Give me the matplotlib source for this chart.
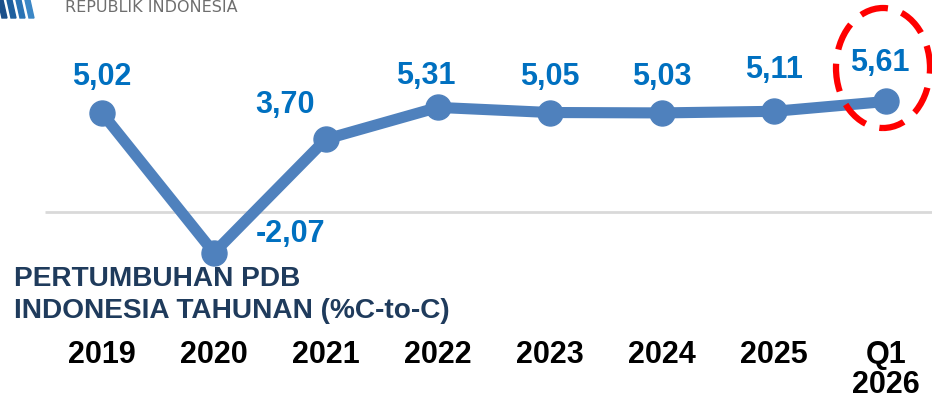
import matplotlib
matplotlib.use("Agg")
import matplotlib.pyplot as plt
from matplotlib.patches import Ellipse, Polygon

categories = ["2019", "2020", "2021", "2022", "2023", "2024", "2025", "Q1\n2026"]
growth = [5.02, -2.07, 3.70, 5.31, 5.05, 5.03, 5.11, 5.61]
value_labels = ["5,02", "-2,07", "3,70", "5,31", "5,05", "5,03", "5,11", "5,61"]
label_offsets_px = [(0, 36), (77, 19), (-41, 34), (-12, 31), (0, 36), (0, 36), (0, 41), (-6, 38)]

plt.rcParams['font.family'] = ['Liberation Sans', 'DejaVu Sans']

W, H, DPI = 932, 403, 100
fig = plt.figure(figsize=(W / DPI, H / DPI), dpi=DPI)
fig.patch.set_facecolor("white")

bottom_px = 338
ax = fig.add_axes([0, (H - bottom_px) / H, 1, bottom_px / H])
x0_px, step_px, zero_px, unit_px = 102, 112, 212, 19.7
ax.set_xlim(-x0_px / step_px, (W - x0_px) / step_px)
ax.set_ylim((zero_px - bottom_px) / unit_px, zero_px / unit_px)
ax.axis("off")

xs = list(range(len(categories)))
# zero gridline
ax.hlines(0, (45 - x0_px) / step_px, (W - x0_px) / step_px, color="#D9D9D9", lw=2, zorder=1)
ax.plot(xs, growth, color="#4F81BD", lw=8, marker="o", markersize=18,
        solid_capstyle="round", solid_joinstyle="round", zorder=3)

for x, v, lab, (dx, dy) in zip(xs, growth, value_labels, label_offsets_px):
    ax.annotate(lab, (x, v), xytext=(dx * 72 / DPI, dy * 72 / DPI), textcoords="offset points",
                ha="center", va="center", fontsize=22, fontweight="bold", color="#0070C0", zorder=4)

# category labels
for x, c in zip(xs, categories):
    ax.text(x, (zero_px - 340) / unit_px, c, ha="center", va="top", fontsize=22,
            fontweight="bold", color="black", linespacing=1.0, clip_on=False)

# red dashed highlight ellipse
ell = Ellipse((xs[-1] - 3 / step_px, (zero_px - 68) / unit_px), 94 / step_px, 120 / unit_px,
              fill=False, edgecolor="#FF0000", lw=4.5, linestyle=(1, (4.5, 2.3)), zorder=5, clip_on=False)
ax.add_patch(ell)

# chart title
fig.text(14 / W, 1 - 266 / H, "PERTUMBUHAN PDB\nINDONESIA TAHUNAN (%C-to-C)", ha="left", va="top",
         fontsize=20.2, fontweight="bold", color="#1F3B5C", linespacing=1.28)

# header logo fragment and text
fig.text(65 / W, 1 - 8 / H, "REPUBLIK INDONESIA", ha="left", va="center", fontsize=11.5,
         color="#6E6E6E", family=["DejaVu Sans"])
for i, col in enumerate(["#1B4F8A", "#1E5F9E", "#2A73B4", "#3B87C6"]):
    x = i * 9 - 2
    poly = Polygon([(x / W, 1 - 0 / H), ((x + 5) / W, 1 - 0 / H), ((x + 9) / W, 1 - 18 / H), ((x + 4) / W, 1 - 18 / H)],
                   closed=True, transform=fig.transFigure, color=col)
    fig.patches.append(poly)

fig.savefig("out.png", dpi=DPI)
